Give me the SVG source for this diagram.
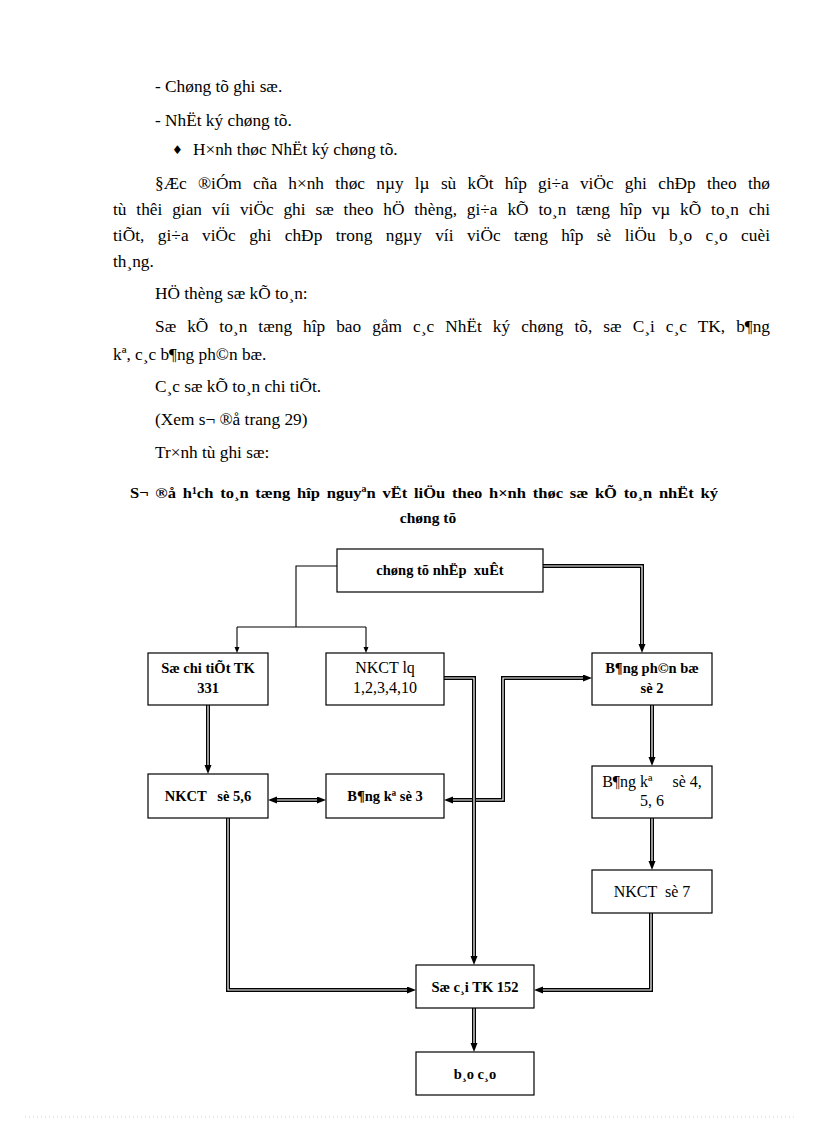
<svg xmlns="http://www.w3.org/2000/svg" width="816" height="1123" viewBox="0 0 816 1123">
<defs>
<style>
.t{font-family:"Liberation Serif","Times New Roman",serif;font-size:17.3px;fill:#000}
.ttl{font-family:"Liberation Serif","Times New Roman",serif;font-size:15.5px;font-weight:bold;fill:#000}
.box{fill:#fff;stroke:#000;stroke-width:1.2}
.lb{font-family:"Liberation Serif","Times New Roman",serif;font-size:14.5px;font-weight:bold;fill:#000;text-anchor:middle;white-space:pre}
.lr{font-family:"Liberation Serif","Times New Roman",serif;font-size:16px;fill:#000;text-anchor:middle;white-space:pre}
.sgl{fill:none;stroke:#000;stroke-width:1.1}
.dout{fill:none;stroke:#000;stroke-width:4;stroke-linejoin:miter}
.din{fill:none;stroke:#fff;stroke-width:1.2;stroke-linejoin:miter}
</style>
<marker id="ad" markerUnits="userSpaceOnUse" markerWidth="10" markerHeight="8" refX="3" refY="3.5" orient="auto-start-reverse">
<path d="M0,0 L9,3.5 L0,7 z" fill="#000"/>
</marker>
<marker id="as" markerUnits="userSpaceOnUse" markerWidth="7" markerHeight="6" refX="2" refY="2.5" orient="auto">
<path d="M0,0 L6,2.5 L0,5 z" fill="#000"/>
</marker>
</defs>
<rect width="816" height="1123" fill="#fff"/>

<g id="body-text">
<text class="t" x="155" y="92">- Chøng tõ ghi sæ.</text>
<text class="t" x="155" y="126">- NhËt ký chøng tõ.</text>
<text x="172" y="154" font-family="DejaVu Sans,sans-serif" font-size="12">♦</text>
<text class="t" x="193" y="155">H×nh thøc NhËt ký chøng tõ.</text>
<text class="t" x="155" y="189" word-spacing="7" textLength="615" lengthAdjust="spacing">§Æc ®iÓm cña h×nh thøc nµy lµ sù kÕt hîp gi÷a viÖc ghi chÐp theo thø</text>
<text class="t" x="113" y="215" word-spacing="5.5" textLength="657" lengthAdjust="spacing">tù thêi gian víi viÖc ghi sæ theo hÖ thèng, gi÷a kÕ to¸n tæng hîp vµ kÕ to¸n chi</text>
<text class="t" x="113" y="241" word-spacing="9" textLength="657" lengthAdjust="spacing">tiÕt, gi÷a viÖc ghi chÐp trong ngµy víi viÖc tæng hîp sè liÖu b¸o c¸o cuèi</text>
<text class="t" x="113" y="267">th¸ng.</text>
<text class="t" x="155" y="299">HÖ thèng sæ kÕ to¸n:</text>
<text class="t" x="155" y="332" word-spacing="6.6" textLength="615" lengthAdjust="spacing">Sæ kÕ to¸n tæng hîp bao gåm c¸c NhËt ký chøng tõ, sæ C¸i c¸c TK, b¶ng</text>
<text class="t" x="113" y="360">kª, c¸c b¶ng ph©n bæ.</text>
<text class="t" x="155" y="392">C¸c sæ kÕ to¸n chi tiÕt.</text>
<text class="t" x="155" y="425">(Xem s¬ ®å trang 29)</text>
<text class="t" x="155" y="458">Tr×nh tù ghi sæ:</text>
<text class="ttl" x="130" y="498" word-spacing="2.5" textLength="588" lengthAdjust="spacingAndGlyphs">S¬ ®å h¹ch to¸n tæng hîp nguyªn vËt liÖu theo h×nh thøc sæ kÕ to¸n nhËt ký</text>
<text class="ttl" x="428" y="523" text-anchor="middle">chøng tõ</text>
</g>

<g id="connectors">
<path class="sgl" d="M337,566 H296 V627"/>
<path class="sgl" d="M237,627 H366"/>
<path class="sgl" d="M237,627 V649" marker-end="url(#as)"/>
<path class="sgl" d="M366,627 V649" marker-end="url(#as)"/>

<path class="dout" d="M543,566 H642 V647"/>
<path class="din" d="M543,566 H642 V647" marker-end="url(#ad)"/>
<path class="dout" d="M208,705 V768"/>
<path class="din" d="M208,705 V768" marker-end="url(#ad)"/>
<path class="dout" d="M274,800 H320"/>
<path class="din" d="M274,800 H320" marker-start="url(#ad)" marker-end="url(#ad)"/>
<path class="dout" d="M450,800 H503 V678 H586"/>
<path class="din" d="M450,800 H503 V678 H586" marker-start="url(#ad)" marker-end="url(#ad)"/>
<path class="dout" d="M444,678 H474 V959"/>
<path class="din" d="M444,678 H474 V959" marker-end="url(#ad)"/>
<path class="dout" d="M652,705 V760"/>
<path class="din" d="M652,705 V760" marker-end="url(#ad)"/>
<path class="dout" d="M652,818 V864"/>
<path class="din" d="M652,818 V864" marker-end="url(#ad)"/>
<path class="dout" d="M651,913 V990 H540"/>
<path class="din" d="M651,913 V990 H540" marker-end="url(#ad)"/>
<path class="dout" d="M228,818 V990 H410"/>
<path class="din" d="M228,818 V990 H410" marker-end="url(#ad)"/>
<path class="dout" d="M474,1008 V1046"/>
<path class="din" d="M474,1008 V1046" marker-end="url(#ad)"/>
</g>

<g id="n-chungtu">
<rect class="box" x="337" y="549" width="206" height="43"/>
<text class="lb" x="440" y="575">chøng tõ nhËp  xuÊt</text>
</g>
<g id="n-sochitiet">
<rect class="box" x="148" y="653" width="120" height="52"/>
<text class="lb" x="208" y="673">Sæ chi tiÕt TK</text>
<text class="lb" x="208" y="693">331</text>
</g>
<g id="n-nkctlq">
<rect class="box" x="326" y="653" width="118" height="52"/>
<text class="lr" x="385" y="673">NKCT lq</text>
<text class="lr" x="385" y="693">1,2,3,4,10</text>
</g>
<g id="n-bangphanbo">
<rect class="box" x="592" y="653" width="120" height="52"/>
<text class="lb" x="652" y="673">B¶ng ph©n bæ</text>
<text class="lb" x="652" y="693">sè 2</text>
</g>
<g id="n-nkct56">
<rect class="box" x="148" y="774" width="120" height="44"/>
<text class="lb" x="208" y="801">NKCT   sè 5,6</text>
</g>
<g id="n-bangke3">
<rect class="box" x="326" y="774" width="118" height="44"/>
<text class="lb" x="385" y="801">B¶ng kª sè 3</text>
</g>
<g id="n-bangke456">
<rect class="box" x="592" y="766" width="120" height="52"/>
<text class="lr" x="652" y="787">B¶ng kª     sè 4,</text>
<text class="lr" x="652" y="806">5, 6</text>
</g>
<g id="n-nkct7">
<rect class="box" x="592" y="870" width="120" height="43"/>
<text class="lr" x="652" y="897">NKCT  sè 7</text>
</g>
<g id="n-socai">
<rect class="box" x="416" y="965" width="118" height="43"/>
<text class="lb" x="475" y="992">Sæ c¸i TK 152</text>
</g>
<g id="n-baocao">
<rect class="box" x="416" y="1052" width="118" height="43"/>
<text class="lb" x="475" y="1079">b¸o c¸o</text>
</g>

<line x1="25" y1="1117" x2="795" y2="1117" stroke="#c8c8c8" stroke-width="0.8" stroke-dasharray="1 3"/>
</svg>
